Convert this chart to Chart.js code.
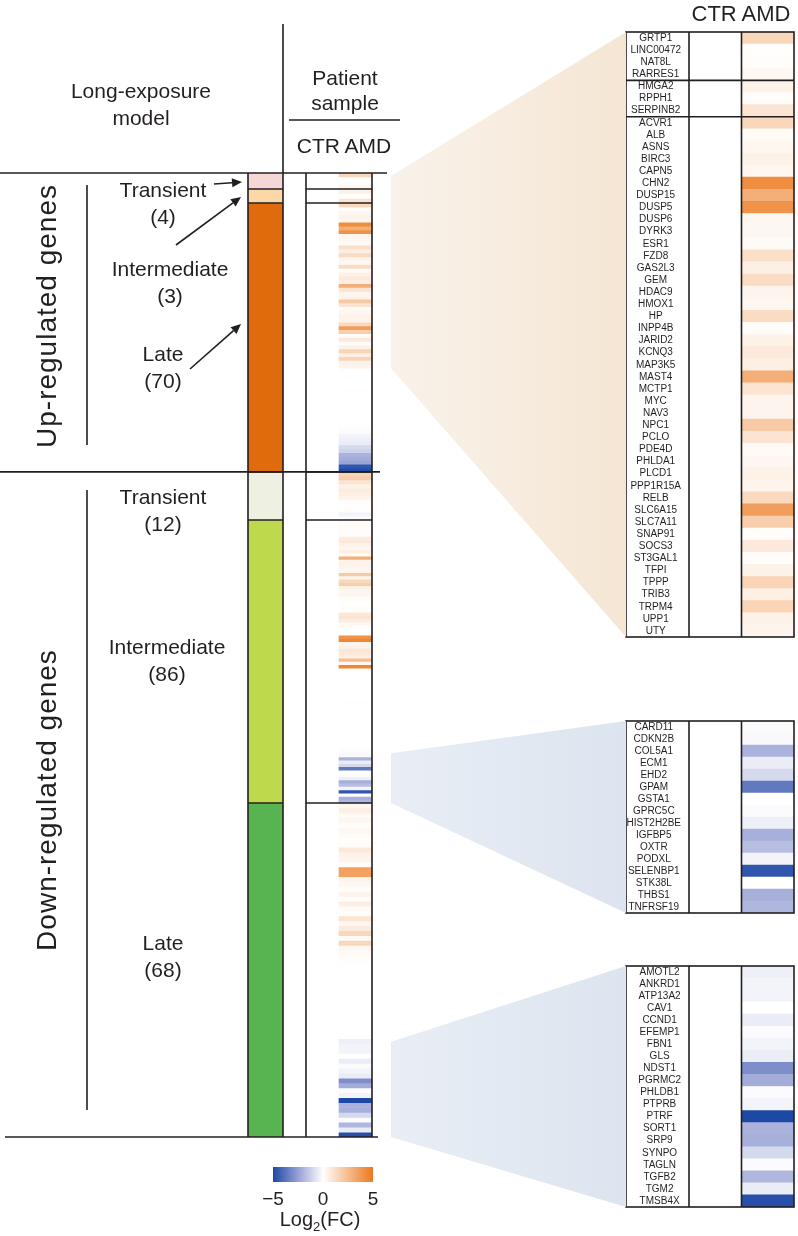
<!DOCTYPE html>
<html>
<head>
<meta charset="utf-8">
<script src="https://cdn.jsdelivr.net/npm/chart.js@4.4.1/dist/chart.umd.min.js"></script>
<style>
  body { margin: 0; width: 798px; height: 1236px; position: relative; overflow: hidden; background: #fff;
         font-family: "Liberation Sans", Arial, sans-serif; color: #231f20; }
  .box { position: absolute; }
  .t { position: absolute; transform: translate(-50%, -50%); text-align: center; white-space: nowrap; font-size: 21px; line-height: 27px; }
  .rot { transform: translate(-50%, -50%) rotate(-90deg); font-size: 28px; letter-spacing: 1px; }
  canvas { display: block; }
</style>
</head>
<body>

<div class="box" style="left:246px;top:171px"><canvas id="modelChart" width="39" height="968"></canvas></div>
<div class="box" style="left:304px;top:171px"><canvas id="patientChart" width="70" height="968"></canvas></div>
<div class="box" style="left:624px;top:30px"><canvas id="panelUp" width="172" height="609"></canvas></div>
<div class="box" style="left:624px;top:719px"><canvas id="panelDownMid" width="172" height="196"></canvas></div>
<div class="box" style="left:624px;top:964px"><canvas id="panelDownLate" width="172" height="245"></canvas></div>
<div class="box" style="left:255px;top:1165px"><canvas id="colorbar" width="136" height="48"></canvas></div>
<canvas id="deco" class="box" width="798" height="1236" style="left:0;top:0;pointer-events:none"></canvas>

<div class="t" style="left:141px;top:104px">Long-exposure<br>model</div>
<div class="t" style="left:345px;top:90px;line-height:25px">Patient<br>sample</div>
<div class="t" style="left:344px;top:145px">CTR AMD</div>
<div class="t" style="left:741px;top:13px;font-size:22px">CTR AMD</div>

<div class="t rot" style="left:46px;top:316px">Up-regulated genes</div>
<div class="t rot" style="left:46px;top:800px">Down-regulated genes</div>

<div class="t" style="left:163px;top:203px">Transient<br>(4)</div>
<div class="t" style="left:170px;top:282px">Intermediate<br>(3)</div>
<div class="t" style="left:163px;top:367px">Late<br>(70)</div>
<div class="t" style="left:163px;top:510px">Transient<br>(12)</div>
<div class="t" style="left:167px;top:660px">Intermediate<br>(86)</div>
<div class="t" style="left:163px;top:956px">Late<br>(68)</div>

<div class="t" style="left:320px;top:1223px;font-size:20px">Log<sub style="font-size:13px">2</sub>(FC)</div>

<script>
// ---------- data (log2 fold change, AMD vs CTR) ----------
const groupLabels = ["Transient", "Intermediate", "Late", "Transient", "Intermediate", "Late"];
const groupGeneCounts = [4, 3, 70, 12, 86, 68];

const upTransientAMD = [1.5, 0.05, 0.1, 0.3];
const upIntermediateAMD = [0.5, 0.1, 1.0];
const upLateAMD = [
  1.5, 0.2, 0.3, 0.5, 0.3, 4.2, 3.0, 4.0, 0.3, 0.3,
  0.2, 1.2, 0.6, 1.3, 0.4, 0.3, 1.3, 0.1, 0.5, 0.8,
  0.6, 3.0, 1.0, 0.4, 0.4, 2.0, 1.0, 0.2, 0.3, 0.5,
  0.4, 1.4, 3.6, 1.8, 0.1, 0.8, 0.1, 0.5, 1.6, 0.6,
  1.6, 0.5, 0.4,
  0.05, 0, 0.02, 0, 0, 0.03, 0, 0, 0, 0.02,
  0, 0, 0, 0, -0.02, -0.05, -0.1,
  -0.3, -0.4, -0.5, -1.0, -1.2, -2.0, -2.2, -2.4, -4.6, -4.9
];
const downTransientAMD = [1.6, 1.8, 1.0, 0.5, 0.7, 0.6, 0.4, 0.1, 0, 0.05, -0.3, -0.05];
const downIntermediateAMD = [
  0.1, 0.2, 0.1, 0.05, 0.1, 0.7, 0.8, 0.5, 0.3, 0.6,
  0.2, 3.0, 0.4, 0.5, 0.4, 0.3, 2.0, 0.4, 1.5, 1.8,
  0.5, 0.3, 0.4, 0.2, 0.05, 0, 0.1, 0, 0.9, 1.0,
  0.7, 0.3, 0.1, 0, 0.1, 4.0, 4.5, 0.4, 0.5, 0.9,
  0.8, 0.6, 2.5, 0.3, 4.5,
  0, 0, 0.02, 0, 0, 0, 0, 0, 0, 0,
  0.02, 0, 0, 0, 0, 0, 0, 0, 0, 0,
  0, 0, 0, 0, -0.02,
  -0.1, -0.15, -2.0, -0.5, -1.0, -3.6, 0, -0.1, -0.4, -2.1,
  -1.7, -0.3, -4.6, 0, -2.1, -1.9
];
const downLateAMD = [
  0.3, 0.6, 0.2, 0.3, 0.1, 0.3, 0.2, 0.05, 0.1, 0.8,
  0.5, 0.4, 0.1, 3.5, 3.5, 0.4, 0.3, 0.1, 0.4, 0.1,
  0.6, 0.2, 0.1, 1.0, 0.3, 0.7, 1.5, 0.2, 1.5, 0.3,
  0.2,
  0.1, 0.05, 0, 0, 0, 0, 0, 0, 0, 0,
  0, 0, 0, 0, 0, 0, -0.02,
  -0.4, -0.3, -0.3, 0, -0.5, -0.1, -0.3, -0.5, -3.0, -2.2,
  -0.1, -0.3, -5.0, -2.0, -2.1, -1.0, -0.1, -1.9, -0.5, -4.8
];
const ctrLog2FC = 0; // control is the reference

const upPanelGenes = [
  "GRTP1", "LINC00472", "NAT8L", "RARRES1",
  "HMGA2", "RPPH1", "SERPINB2",
  "ACVR1", "ALB", "ASNS", "BIRC3", "CAPN5", "CHN2", "DUSP15", "DUSP5", "DUSP6", "DYRK3",
  "ESR1", "FZD8", "GAS2L3", "GEM", "HDAC9", "HMOX1", "HP", "INPP4B", "JARID2", "KCNQ3",
  "MAP3K5", "MAST4", "MCTP1", "MYC", "NAV3", "NPC1", "PCLO", "PDE4D", "PHLDA1", "PLCD1",
  "PPP1R15A", "RELB", "SLC6A15", "SLC7A11", "SNAP91", "SOCS3", "ST3GAL1", "TFPI", "TPPP",
  "TRIB3", "TRPM4", "UPP1", "UTY"
];
const downMidPanelGenes = [
  "CARD11", "CDKN2B", "COL5A1", "ECM1", "EHD2", "GPAM", "GSTA1", "GPRC5C",
  "HIST2H2BE", "IGFBP5", "OXTR", "PODXL", "SELENBP1", "STK38L", "THBS1", "TNFRSF19"
];
const downLatePanelGenes = [
  "AMOTL2", "ANKRD1", "ATP13A2", "CAV1", "CCND1", "EFEMP1", "FBN1", "GLS", "NDST1", "PGRMC2",
  "PHLDB1", "PTPRB", "PTRF", "SORT1", "SRP9", "SYNPO", "TAGLN", "TGFB2", "TGM2", "TMSB4X"
];
const colorbarTicks = [-5, 0, 5];

// ---------- look ----------
const INK = "#231f20";
const FONT = '"Liberation Sans", Arial, sans-serif';
// the figure does not give every group the same row height
const ROW_H = [4, 4.67, 3.84, 4, 3.29, 4.91];
const MODEL_COLORS = ["#f6d7d7", "#fbd8a6", "#df6b0d", "#eef1e2", "#bed94c", "#57b450"];
const LINE_W = 1.6;

Chart.defaults.font.family = FONT;
Chart.defaults.color = INK;

function mix(a, b, t) {
  return "rgb(" + a.map((c, i) => Math.round(c + (b[i] - c) * t)).join(",") + ")";
}
function fcColor(v) {
  const t = Math.max(-1, Math.min(1, v / 5));
  const white = [255, 255, 255];
  if (t >= 0) return mix(white, [236, 120, 28], t);
  if (t > -0.5) return mix(white, [150, 160, 212], -t * 2);
  return mix([150, 160, 212], [30, 72, 165], (-t - 0.5) * 2);
}

// rows of the main heat strip
const groupValues = [upTransientAMD, upIntermediateAMD, upLateAMD, downTransientAMD, downIntermediateAMD, downLateAMD];
const rows = [];
groupValues.forEach((vals, g) => vals.forEach(v => rows.push({ g, v })));
const groupSpan = groupGeneCounts.map((n, g) => n * ROW_H[g]);
const groupEdges = [0];
groupSpan.forEach(s => groupEdges.push(groupEdges[groupEdges.length - 1] + s));
const total = groupEdges[groupEdges.length - 1];

// lines inside the long strips
const stripFrame = {
  id: "stripFrame",
  afterDatasetsDraw(chart, args, opts) {
    const { ctx, chartArea: a, scales } = chart;
    ctx.save();
    ctx.strokeStyle = INK;
    ctx.lineWidth = LINE_W;
    ctx.beginPath();
    (opts.breaks || []).forEach(v => {
      const y = scales.y.getPixelForValue(v);
      ctx.moveTo(a.left, y); ctx.lineTo(a.right, y);
    });
    ctx.moveTo(a.left, a.top); ctx.lineTo(a.left, a.bottom);
    ctx.moveTo(a.right, a.top); ctx.lineTo(a.right, a.bottom);
    ctx.stroke();
    ctx.restore();
  }
};

const baseOpts = {
  responsive: false,
  animation: false,
  events: [],
  layout: { padding: 2 }
};
const innerBreaks = groupEdges.slice(1, -1);

const modelChart = new Chart(document.getElementById("modelChart"), {
  type: "bar",
  data: {
    labels: ["model"],
    datasets: groupLabels.map((name, g) => ({
      label: name,
      data: [groupSpan[g]],
      backgroundColor: MODEL_COLORS[g],
      borderWidth: 0,
      barPercentage: 1,
      categoryPercentage: 1
    }))
  },
  options: {
    ...baseOpts,
    plugins: { legend: { display: false }, tooltip: { enabled: false }, stripFrame: { breaks: innerBreaks } },
    scales: {
      x: { display: false, stacked: true },
      y: { display: false, stacked: true, reverse: true, min: 0, max: total }
    }
  },
  plugins: [stripFrame]
});

const patientChart = new Chart(document.getElementById("patientChart"), {
  type: "bar",
  data: {
    labels: ["CTR", "AMD"],
    datasets: rows.map(r => ({
      data: [ROW_H[r.g], ROW_H[r.g]],
      backgroundColor: [fcColor(ctrLog2FC), fcColor(r.v)],
      borderWidth: 0,
      barPercentage: 1,
      categoryPercentage: 1
    }))
  },
  options: {
    ...baseOpts,
    plugins: { legend: { display: false }, tooltip: { enabled: false }, stripFrame: { breaks: innerBreaks } },
    scales: {
      x: { display: false, stacked: true },
      y: { display: false, stacked: true, reverse: true, min: 0, max: total }
    }
  },
  plugins: [stripFrame]
});

// zoomed gene panels on the right
const panelFrame = {
  id: "panelFrame",
  afterDatasetsDraw(chart, args, opts) {
    const { ctx, chartArea: a, scales } = chart;
    const left = scales.y.left;
    ctx.save();
    ctx.strokeStyle = INK;
    ctx.lineWidth = LINE_W;
    ctx.strokeRect(left, a.top, a.right - left, a.bottom - a.top);
    ctx.beginPath();
    [a.left, scales.x.getPixelForValue(1)].forEach(x => { ctx.moveTo(x, a.top); ctx.lineTo(x, a.bottom); });
    (opts.breaks || []).forEach(i => {
      const y = (scales.y.getPixelForValue(i - 1) + scales.y.getPixelForValue(i)) / 2;
      ctx.moveTo(left, y); ctx.lineTo(a.right, y);
    });
    ctx.stroke();
    ctx.restore();
  }
};

function genePanel(id, genes, values, breaks) {
  return new Chart(document.getElementById(id), {
    type: "bar",
    data: {
      labels: genes,
      datasets: [
        { label: "CTR", data: genes.map(() => [0, 1]), backgroundColor: genes.map(() => fcColor(ctrLog2FC)) },
        { label: "AMD", data: genes.map(() => [1, 2]), backgroundColor: values.map(fcColor) }
      ]
    },
    options: {
      ...baseOpts,
      indexAxis: "y",
      datasets: { bar: { barPercentage: 1, categoryPercentage: 1, grouped: false, borderWidth: 0 } },
      plugins: { legend: { display: false }, tooltip: { enabled: false }, panelFrame: { breaks } },
      scales: {
        x: { display: false, min: 0, max: 2 },
        y: {
          grid: { display: false, drawTicks: false },
          border: { display: false },
          ticks: { autoSkip: false, crossAlign: "center", padding: 8, color: INK, font: { size: 10 } },
          afterFit(s) {
            s.width = 63;
            s.paddingTop = 0;
            s.paddingBottom = 0;
          }
        }
      }
    },
    plugins: [panelFrame]
  });
}

const upPanelValues = [...upTransientAMD, ...upIntermediateAMD, ...upLateAMD.slice(0, upPanelGenes.length - 7)];
const panelUp = genePanel("panelUp", upPanelGenes, upPanelValues,
  [groupGeneCounts[0], groupGeneCounts[0] + groupGeneCounts[1]]);
const panelDownMid = genePanel("panelDownMid", downMidPanelGenes, downIntermediateAMD.slice(-downMidPanelGenes.length), []);
const panelDownLate = genePanel("panelDownLate", downLatePanelGenes, downLateAMD.slice(-downLatePanelGenes.length), []);

// colour key
new Chart(document.getElementById("colorbar"), {
  type: "bar",
  data: {
    labels: [""],
    datasets: [{
      data: [[colorbarTicks[0], colorbarTicks[colorbarTicks.length - 1]]],
      barPercentage: 1,
      categoryPercentage: 1,
      borderWidth: 0,
      backgroundColor(c) {
        const a = c.chart.chartArea;
        if (!a) return "#fff";
        const g = c.chart.ctx.createLinearGradient(a.left, 0, a.right, 0);
        for (let i = 0; i <= 20; i++) g.addColorStop(i / 20, fcColor(-5 + i * 0.5));
        return g;
      }
    }]
  },
  options: {
    ...baseOpts,
    indexAxis: "y",
    layout: { padding: { left: 18, right: 18, top: 2, bottom: 0 } },
    plugins: { legend: { display: false }, tooltip: { enabled: false } },
    scales: {
      x: {
        min: colorbarTicks[0], max: colorbarTicks[colorbarTicks.length - 1],
        grid: { display: false, drawTicks: false },
        border: { display: false },
        afterBuildTicks(s) { s.ticks = colorbarTicks.map(v => ({ value: v })); },
        ticks: { padding: 6, color: INK, font: { size: 19 }, callback: v => String(v).replace("-", "\u2212") },
        afterFit(s) { s.height = 31; }
      },
      y: { display: false }
    }
  }
});

// connectors, long rules and arrows
function drawDeco() {
  const ctx = document.getElementById("deco").getContext("2d");
  const top = ch => ch.canvas.getBoundingClientRect().top;
  const left = ch => ch.canvas.getBoundingClientRect().left;
  const mainY = v => top(patientChart) + patientChart.scales.y.getPixelForValue(v);
  const wedgeX0 = left(patientChart) + patientChart.chartArea.right + 19;

  function wedge(v0, v1, panel, c0, c1) {
    const x1 = left(panel) + panel.scales.y.left;
    const y0 = top(panel) + panel.chartArea.top;
    const y1 = top(panel) + panel.chartArea.bottom;
    const g = ctx.createLinearGradient(wedgeX0, 0, x1, 0);
    g.addColorStop(0, c0);
    g.addColorStop(1, c1);
    ctx.fillStyle = g;
    ctx.beginPath();
    ctx.moveTo(wedgeX0, mainY(v0) + 3);
    ctx.lineTo(x1, y0);
    ctx.lineTo(x1, y1);
    ctx.lineTo(wedgeX0, mainY(v1));
    ctx.closePath();
    ctx.fill();
  }
  const tan0 = "#f9f2ea", tan1 = "#f5e6d4", blue0 = "#e9eef5", blue1 = "#dce4ef";
  wedge(groupEdges[0], groupEdges[2] + (upPanelGenes.length - 7) * ROW_H[2], panelUp, tan0, tan1);
  wedge(groupEdges[5] - downMidPanelGenes.length * ROW_H[4], groupEdges[5], panelDownMid, blue0, blue1);
  wedge(groupEdges[6] - downLatePanelGenes.length * ROW_H[5], groupEdges[6], panelDownLate, blue0, blue1);

  ctx.strokeStyle = INK;
  ctx.fillStyle = INK;
  ctx.lineWidth = LINE_W;
  const modelRight = left(modelChart) + modelChart.chartArea.right;
  const line = (x0, y0, x1, y1) => { ctx.beginPath(); ctx.moveTo(x0, y0); ctx.lineTo(x1, y1); ctx.stroke(); };
  line(0, mainY(groupEdges[0]), 387, mainY(groupEdges[0]));
  line(0, mainY(groupEdges[3]), 380, mainY(groupEdges[3]));
  line(5, mainY(groupEdges[6]), 378, mainY(groupEdges[6]));
  line(modelRight, 24, modelRight, mainY(0));
  line(289, 120, 400, 120);
  line(87, 185, 87, 445);
  line(87, 490, 87, 1110);

  function arrow(x0, y0, x1, y1) {
    const ang = Math.atan2(y1 - y0, x1 - x0);
    const len = 10, half = 4.5;
    const bx = x1 - len * Math.cos(ang), by = y1 - len * Math.sin(ang);
    line(x0, y0, bx, by);
    ctx.beginPath();
    ctx.moveTo(x1, y1);
    ctx.lineTo(bx + half * Math.sin(ang), by - half * Math.cos(ang));
    ctx.lineTo(bx - half * Math.sin(ang), by + half * Math.cos(ang));
    ctx.closePath();
    ctx.fill();
  }
  arrow(214, 184, 242, 182);
  arrow(176, 245, 241, 197);
  arrow(190, 369, 241, 324);
}
drawDeco();
</script>
</body>
</html>
